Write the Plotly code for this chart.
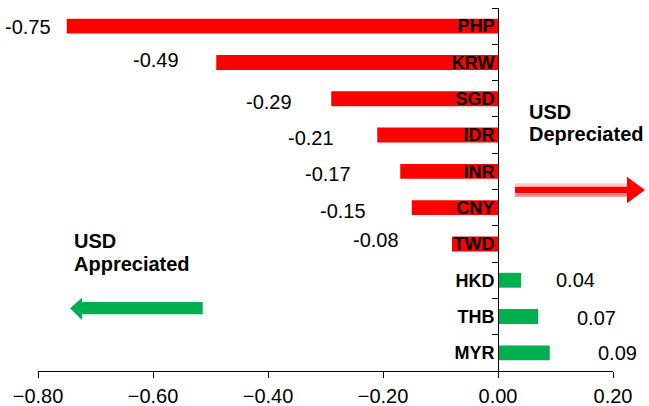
import plotly.graph_objects as go

# Currency moves against the USD
currencies = ["PHP", "KRW", "SGD", "IDR", "INR", "CNY", "TWD", "HKD", "THB", "MYR"]
changes = [-0.75, -0.49, -0.29, -0.21, -0.17, -0.15, -0.08, 0.04, 0.07, 0.09]
x_ticks = [-0.80, -0.60, -0.40, -0.20, 0.00, 0.20]

# Label placement (pixel gap from bar end, vertical nudge)
label_gap = [14, 35, 37, 41, 47, 44, 51, 33, 37, 46]
label_nudge = [-1, 2, -3, -3, -3, -3, 4, 0, -1, 0]

RED = "#ff0000"
GREEN = "#00b050"
FONT = "Arial, Liberation Sans, sans-serif"

W, H = 649, 406
ML, MR, MT, MB = 38, 36, 8, 35
PW, PH = W - ML - MR, H - MT - MB


def px(x):
    return (x - ML) / PW


def py(y):
    return (H - MB - y) / PH


colors = [RED if v < 0 else GREEN for v in changes]

fig = go.Figure(
    go.Bar(
        x=changes,
        y=currencies,
        orientation="h",
        marker=dict(color=colors, line=dict(width=0)),
        width=0.41,
        hoverinfo="x+y",
    )
)

annotations = []
for cur, val, gap, dy in zip(currencies, changes, label_gap, label_nudge):
    annotations.append(
        dict(
            x=val, y=cur, xref="x", yref="y",
            text=f"{val:.2f}",
            showarrow=False,
            xanchor="right" if val < 0 else "left",
            yanchor="middle",
            xshift=-gap if val < 0 else gap,
            yshift=dy,
            font=dict(family=FONT, size=20, color="black"),
        )
    )

for text, x0, yc in [("USD", 528, 111.5), ("Depreciated", 528, 133.5),
                     ("USD", 73, 240.5), ("Appreciated", 73, 264)]:
    annotations.append(
        dict(
            x=px(x0), y=py(yc), xref="paper", yref="paper",
            text=f"<b>{text}</b>", showarrow=False,
            xanchor="left", yanchor="middle", borderpad=0,
            font=dict(family=FONT, size=20, color="black"),
        )
    )


def rect(x0, y0, x1, y1, color):
    return dict(type="rect", xref="paper", yref="paper",
                x0=px(x0), x1=px(x1), y0=py(y0), y1=py(y1),
                fillcolor=color, line=dict(width=0), layer="above")


def tri(pts, color):
    path = "M " + " L ".join(f"{px(a)},{py(b)}" for a, b in pts) + " Z"
    return dict(type="path", xref="paper", yref="paper", path=path,
                fillcolor=color, line=dict(width=0), layer="above")


shapes = [
    # right-pointing red arrow
    rect(515, 183.3, 627, 186.7, "#ffc8c8"),
    rect(515, 186.7, 627, 193.3, RED),
    rect(515, 193.3, 627, 196.7, "#ff8080"),
    tri([(627, 176.7), (645, 190), (627, 203.3)], RED),
    # left-pointing green arrow
    rect(81.7, 302, 202.7, 314.3, GREEN),
    tri([(82, 297.7), (70, 308.3), (82, 320)], GREEN),
]

fig.update_layout(
    width=W, height=H,
    margin=dict(l=ML, r=MR, t=MT, b=MB),
    paper_bgcolor="white", plot_bgcolor="white",
    showlegend=False,
    annotations=annotations,
    shapes=shapes,
    xaxis=dict(
        range=[-0.8, 0.2],
        tickvals=x_ticks,
        tickformat=".2f",
        ticks="outside", ticklen=6, tickcolor="black",
        ticklabelstandoff=1,
        automargin=False,
        showline=True, linecolor="black", linewidth=1,
        showgrid=False, zeroline=False,
        tickfont=dict(family=FONT, size=20, color="black"),
    ),
    yaxis=dict(
        categoryorder="array",
        categoryarray=currencies,
        autorange="reversed",
        anchor="free", position=0.8,
        side="left",
        tickson="boundaries",
        ticks="outside", ticklen=6, tickcolor="black",
        automargin=False,
        showline=True, linecolor="black", linewidth=1,
        showgrid=False, zeroline=False,
        tickfont=dict(family=FONT, size=18, color="black", weight="bold"),
    ),
)

fig.write_html("out.html")
